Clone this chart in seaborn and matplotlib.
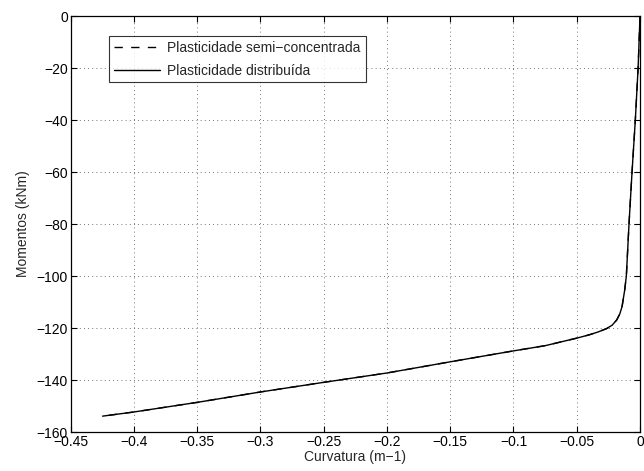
import matplotlib
matplotlib.use("Agg")
import matplotlib.pyplot as plt
import seaborn as sns
import pandas as pd

# Curvature (m^-1) and moments (kNm)
curv_dist = [0, -0.0015, -0.0037, -0.0063, -0.0087, -0.0108, -0.0121,
             -0.0142, -0.0160, -0.0184, -0.0220, -0.0263, -0.0330, -0.040,
             -0.050, -0.075, -0.100, -0.150, -0.200, -0.250,
             -0.300, -0.350, -0.400, -0.4248]
mom_dist = [0, -20, -40, -60, -80, -100, -105.4,
            -111.8, -114.6, -116.9, -118.9, -120.2, -121.5, -122.6,
            -123.9, -126.8, -128.8, -133.0, -137.3, -140.9,
            -144.6, -148.6, -152.3, -153.9]

curv_semi = list(curv_dist)
mom_semi = list(mom_dist)

label_semi = "Plasticidade semi\u2212concentrada"
label_dist = "Plasticidade distribuída"

df = pd.concat([
    pd.DataFrame({"k": curv_semi, "M": mom_semi, "serie": label_semi}),
    pd.DataFrame({"k": curv_dist, "M": mom_dist, "serie": label_dist}),
], ignore_index=True)

sns.set_style("white")
plt.rcParams["font.family"] = ["Liberation Sans", "DejaVu Sans"]
plt.rcParams["axes.unicode_minus"] = True

fig = plt.figure(figsize=(6.44, 4.71), dpi=100)
ax = fig.add_axes([0.1098, 0.0828, 0.8840, 0.8832])

sns.lineplot(data=df, x="k", y="M", hue="serie", style="serie",
             palette={label_semi: "black", label_dist: "black"},
             dashes={label_semi: (6, 6), label_dist: ""},
             sort=False, estimator=None, linewidth=1.0, ax=ax)

ax.set_xlim(-0.45, 0)
ax.set_ylim(-160, 0)
ax.set_xticks([-0.45, -0.4, -0.35, -0.3, -0.25, -0.2, -0.15, -0.1, -0.05, 0])
ax.set_xticklabels(["\u22120.45", "\u22120.4", "\u22120.35", "\u22120.3", "\u22120.25",
                    "\u22120.2", "\u22120.15", "\u22120.1", "\u22120.05", "0"])
ax.set_yticks(range(-160, 1, 20))
ax.set_yticklabels([("\u2212%d" % -v) if v < 0 else "0" for v in range(-160, 1, 20)])
ax.tick_params(direction="in", length=4, width=0.8, labelsize=10,
               top=True, right=True, bottom=True, left=True, colors="black", pad=2)
ax.grid(True, color="#444444", linestyle=(0, (1, 4)), linewidth=0.6)
for s in ax.spines.values():
    s.set_color("black")
    s.set_linewidth(0.9)
ax.set_xlabel("Curvatura (m\u22121)", fontsize=10, labelpad=1)
ax.set_ylabel("Momentos (kNm)", fontsize=10, labelpad=5)

leg = ax.legend(loc="upper left", bbox_to_anchor=(0.0673, 0.951), borderaxespad=0,
                fontsize=10, frameon=True, fancybox=False, handlelength=3.3,
                handletextpad=0.55, borderpad=0.35, labelspacing=0.6, title=None)
leg.get_frame().set_edgecolor("black")
leg.get_frame().set_linewidth(0.8)

fig.savefig("out.png", dpi=100, facecolor="white")
